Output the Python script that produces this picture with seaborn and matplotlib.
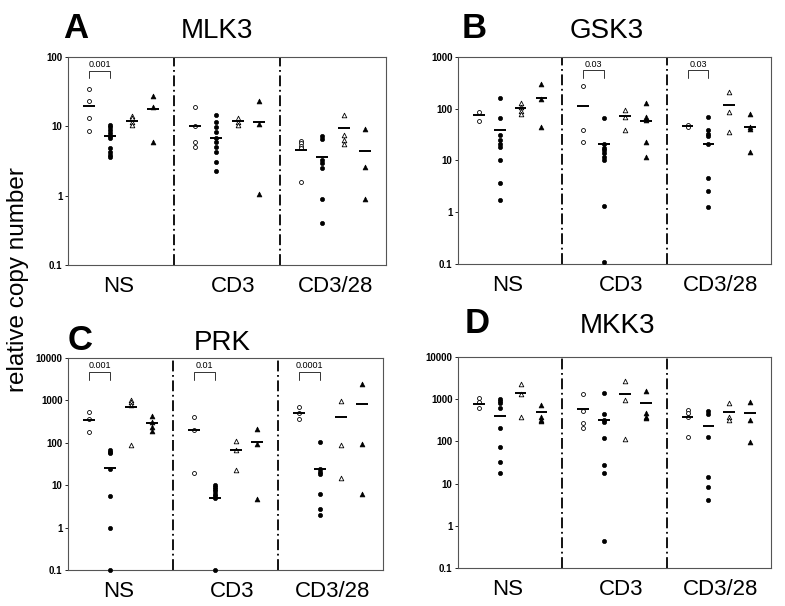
import matplotlib
matplotlib.use("Agg")
import matplotlib.pyplot as plt
import numpy as np
import pandas as pd
import seaborn as sns

# Datos (NS, CD3, CD3/28) para cada grupo de simbolos
GRUPOS = ["NS", "CD3", "CD3/28"]

# MLK3
MLK3_OC = [[34, 23, 13.2, 8.5], [19.2, 10.1, 5.9, 5.1], [6.2, 5.7, 5.2, 4.8, 1.55]]
MLK3_FC = [[10.4, 9.7, 8.8, 7.9, 7.3, 6.7, 4.8, 4.3, 3.9, 3.6],
           [14.6, 11.7, 9.9, 8.3, 6.9, 6.0, 5.1, 4.3, 3.1, 2.3],
           [7.2, 6.5, 3.3, 3.0, 2.5, 0.89, 0.4]]
MLK3_OT = [[14.1, 13, 11.6, 10.4], [13, 11.6, 10.4], [14.6, 7.5, 6.3, 5.6]]
MLK3_FT = [[27.4, 19.2, 5.9], [23, 10.8, 1.05], [9.2, 2.6, 0.9]]
MLK3_MEDIA = [[19.6, 10, 4.6], [7.3, 6.9, 3.6], [12, 12, 9.4], [17.6, 11.6, 4.4]]

# GSK3
GSK3_OC = [[88, 59], [275, 39, 23], [48, 45]]
GSK3_FC = [[164, 66, 31, 25, 20.5, 18, 10.2, 3.6, 1.73],
           [67, 21, 17.8, 15.9, 13.7, 11.9, 10.3, 1.32, 0.107],
           [70, 38, 32, 30, 20.5, 4.5, 2.6, 1.29]]
GSK3_OT = [[127, 106, 91, 79], [95, 70, 39], [214, 87, 36]]
GSK3_FT = [[300, 152, 44], [131, 70, 61, 23, 11.8], [78, 44, 40, 14.8]]
GSK3_MEDIA = [[76, 113, 46], [39, 21, 20.5], [105, 72, 118], [164, 58, 44]]

# PRK
PRK_OC = [[540, 360, 175], [397, 200, 19.6], [710, 510, 355]]
PRK_FC = [[67, 61, 56, 24, 5.6, 1.0, 0.1],
          [10, 9, 8.3, 7.2, 6.3, 5.6, 5.0, 0.1],
          [106, 24, 21, 18.4, 6.3, 2.8, 1.96]]
PRK_OT = [[1020, 900, 780, 88], [110, 68, 22.6], [983, 91, 14.8]]
PRK_FT = [[427, 313, 240, 190], [207, 96, 4.8], [2430, 96, 6.3]]
PRK_MEDIA = [[350, 200, 510], [26, 5.0, 24], [684, 66, 397], [300, 106, 805]]

# MKK3
MKK3_OC = [[1080, 870, 605], [1300, 525, 267, 210], [552, 460, 384, 129]]
MKK3_FC = [[1030, 910, 800, 605, 210, 74, 33, 17.4],
           [1370, 435, 330, 292, 122, 28, 18, 0.43],
           [535, 450, 124, 14, 8.3, 4.1]]
MKK3_OT = [[2290, 1300, 370], [2690, 955, 113], [795, 384, 320]]
MKK3_FT = [[725, 384, 320, 300], [1560, 477, 384, 350], [870, 320, 98]]
MKK3_MEDIA = [[770, 583, 384], [405, 320, 235], [1370, 1300, 500], [486, 795, 460]]

# p-valores: (grupo, texto)
MLK3_P = [(0, "0.001")]
GSK3_P = [(1, "0.03"), (2, "0.03")]
PRK_P = [(0, "0.001"), (1, "0.01"), (2, "0.0001")]
MKK3_P = []

PANELES = [
    ("A", "MLK3", [MLK3_OC, MLK3_FC, MLK3_OT, MLK3_FT], MLK3_MEDIA, MLK3_P, 100),
    ("B", "GSK3", [GSK3_OC, GSK3_FC, GSK3_OT, GSK3_FT], GSK3_MEDIA, GSK3_P, 1000),
    ("C", "PRK", [PRK_OC, PRK_FC, PRK_OT, PRK_FT], PRK_MEDIA, PRK_P, 10000),
    ("D", "MKK3", [MKK3_OC, MKK3_FC, MKK3_OT, MKK3_FT], MKK3_MEDIA, MKK3_P, 10000),
]

# Posiciones de ejes en pixeles: (izq, der, arriba, abajo)
CAJAS = [(68, 386, 57, 265), (458, 771, 57, 264),
         (68, 383, 358, 570), (458, 771, 357, 568)]
# (x letra, x titulo, linea base) en pixeles
TITULOS = [(63, 217, 38), (462, 607, 38), (68, 222, 350), (465, 617, 333)]

MARCADORES = [("o", "white", 8, 0.6), ("o", "black", 9, 0.5),
              ("^", "white", 11, 0.6), ("^", "black", 12, 0.5)]

sns.set_theme(style="white")
plt.rcParams["font.family"] = ["Liberation Sans", "DejaVu Sans"]
plt.rcParams["text.color"] = "black"
plt.rcParams["xtick.color"] = "black"
plt.rcParams["ytick.color"] = "black"

W, H = 785, 606
fig = plt.figure(figsize=(W / 100, H / 100), dpi=100)


def dibujar_panel(ax, series, medias, pvals, ymax):
    for j, (serie, (mk, fc, s, lw)) in enumerate(zip(series, MARCADORES)):
        filas = []
        for g, vals in enumerate(serie):
            for v in vals:
                filas.append({"x": 5 * g + j + 1, "y": v})
        df = pd.DataFrame(filas)
        sns.scatterplot(data=df, x="x", y="y", marker=mk, s=s, color="black",
                        facecolor=fc, edgecolor="black", linewidth=lw,
                        ax=ax, clip_on=False, zorder=3)
        xs = np.array([5 * g + j + 1 for g in range(3)])
        ax.hlines(medias[j], xs - 0.28, xs + 0.28, color="black", lw=1.4, zorder=4)

    for xsep in (5, 10):
        ax.axvline(xsep, color="black", lw=1.3, ls=(0, (6, 2, 1, 2)), zorder=1)

    for g, txt in pvals:
        x0, x1 = 5 * g + 1, 5 * g + 2
        tr = ax.get_xaxis_transform()
        ax.plot([x0, x0, x1, x1], [0.898, 0.935, 0.935, 0.898], color="#333333",
                lw=0.7, transform=tr)
        ax.text((x0 + x1) / 2, 0.942, txt, transform=tr, ha="center", va="bottom",
                fontsize=6.5)

    ax.set_yscale("log")
    ax.set_ylim(0.1, ymax)
    ax.set_xlim(0, 15)
    ticks = [10.0 ** k for k in range(-1, int(np.log10(ymax)) + 1)]
    ax.set_yticks(ticks)
    ax.set_yticklabels(["0.1"] + [str(int(t)) for t in ticks[1:]],
                       fontsize=7, fontweight="bold")
    ax.yaxis.set_minor_locator(matplotlib.ticker.NullLocator())
    ax.set_xticks([2.4, 7.8, 12.6])
    ax.set_xticklabels(GRUPOS, fontsize=16)
    ax.tick_params(axis="x", length=0, pad=8)
    ax.tick_params(axis="y", length=2, width=0.6, pad=2, left=True)
    ax.set_xlabel("")
    ax.set_ylabel("")
    for sp in ax.spines.values():
        sp.set_color("#555555")
        sp.set_linewidth(0.8)


for (letra, gen, series, medias, pvals, ymax), caja, tit in zip(PANELES, CAJAS, TITULOS):
    l, r, t, b = caja
    ax = fig.add_axes([l / W, 1 - b / H, (r - l) / W, (b - t) / H])
    dibujar_panel(ax, series, medias, pvals, ymax)
    fig.text(tit[0] / W, 1 - tit[2] / H, letra, fontsize=25, fontweight="bold",
             ha="left", va="baseline")
    fig.text(tit[1] / W, 1 - tit[2] / H, gen, fontsize=20, ha="center", va="baseline")

fig.text(18 / W, 1 - 280 / H, "relative copy number", rotation=90, fontsize=17.5,
         ha="center", va="center")

fig.savefig("out.png", dpi=100)
